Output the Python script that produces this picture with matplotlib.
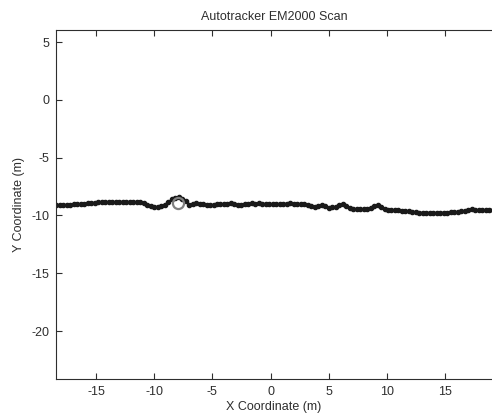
import matplotlib
matplotlib.use("Agg")
import matplotlib.pyplot as plt

# scan points (metres)
scan_x = [-18.4, -18.1, -17.8, -17.5, -17.2, -16.9, -16.6, -16.3, -16.0, -15.7,
          -15.4, -15.1, -14.8, -14.5, -14.2, -13.9, -13.6, -13.3, -13.0, -12.7,
          -12.4, -12.1, -11.8, -11.5, -11.2, -10.9, -10.6, -10.3, -10.0, -9.7,
          -9.4, -9.1, -8.8, -8.5, -8.2, -7.9, -7.6, -7.3, -7.0, -6.7,
          -6.4, -6.1, -5.8, -5.5, -5.2, -4.9, -4.6, -4.3, -4.0, -3.7,
          -3.4, -3.1, -2.8, -2.5, -2.2, -1.9, -1.6, -1.3, -1.0, -0.7,
          -0.4, -0.1, 0.2, 0.5, 0.8, 1.1, 1.4, 1.7, 2.0, 2.3,
          2.6, 2.9, 3.2, 3.5, 3.8, 4.1, 4.4, 4.7, 5.0, 5.3,
          5.6, 5.9, 6.2, 6.5, 6.8, 7.1, 7.4, 7.7, 8.0, 8.3,
          8.6, 8.9, 9.2, 9.5, 9.8, 10.1, 10.4, 10.7, 11.0, 11.3,
          11.6, 11.9, 12.2, 12.5, 12.8, 13.1, 13.4, 13.7, 14.0, 14.3,
          14.6, 14.9, 15.2, 15.5, 15.8, 16.1, 16.4, 16.7, 17.0, 17.3,
          17.6, 17.9, 18.2, 18.5, 18.8, 19.1]
scan_y = [-9.10, -9.09, -9.08, -9.07, -9.07, -9.05, -9.04, -9.02, -9.00, -8.95,
          -8.91, -8.89, -8.87, -8.86, -8.84, -8.83, -8.84, -8.82, -8.81, -8.81,
          -8.80, -8.83, -8.85, -8.87, -8.88, -8.95, -9.08, -9.18, -9.26, -9.30,
          -9.22, -9.08, -8.85, -8.62, -8.45, -8.38, -8.55, -8.78, -9.08, -9.02,
          -8.96, -9.01, -9.04, -9.07, -9.10, -9.06, -9.03, -9.01, -8.99, -8.97,
          -8.96, -9.02, -9.08, -9.10, -9.04, -8.98, -8.96, -8.97, -8.96, -8.98,
          -9.00, -9.03, -9.04, -9.03, -9.01, -8.99, -8.97, -8.96, -8.98, -9.01,
          -9.03, -9.05, -9.07, -9.15, -9.24, -9.20, -9.10, -9.22, -9.32, -9.30,
          -9.24, -9.10, -9.01, -9.15, -9.35, -9.42, -9.46, -9.47, -9.45, -9.42,
          -9.36, -9.22, -9.10, -9.30, -9.47, -9.50, -9.52, -9.54, -9.56, -9.58,
          -9.61, -9.63, -9.67, -9.72, -9.75, -9.76, -9.76, -9.76, -9.77, -9.76,
          -9.76, -9.75, -9.75, -9.74, -9.73, -9.70, -9.66, -9.61, -9.50, -9.46,
          -9.50, -9.53, -9.53, -9.54, -9.53, -9.53]

# tracker position
tracker_x = [-7.93]
tracker_y = [-8.96]

xticks = [-15, -10, -5, 0, 5, 10, 15]
yticks = [5, 0, -5, -10, -15, -20]

plt.rcParams['font.family'] = ['Liberation Sans', 'DejaVu Sans']
plt.rcParams['axes.unicode_minus'] = False
txt = '#2e2e2e'

fig = plt.figure(figsize=(4.92, 4.18), dpi=100)
ax = fig.add_axes([56/492, 39/418, 436/492, 349/418])

ax.plot(scan_x, scan_y, '-', color='#1a1a1a', linewidth=1.2,
        marker='.', markersize=6)
ax.plot(tracker_x, tracker_y, 'o', markerfacecolor='none',
        markeredgecolor='#808080', markeredgewidth=1.6, markersize=8)

ax.set_xlim(-18.44, 19.04)
ax.set_ylim(-24.15, 6.04)
ax.set_xticks(xticks)
ax.set_yticks(yticks)
ax.tick_params(direction='in', length=4, width=0.8, colors=txt,
               labelsize=9, top=True, pad=5)
ax.spines['right'].set_visible(False)
for s in ['left', 'bottom', 'top']:
    ax.spines[s].set_color(txt)
    ax.spines[s].set_linewidth(0.8)

ax.set_title("Autotracker EM2000 Scan", fontsize=9, color=txt, pad=7)
ax.set_xlabel("X Coordinate (m)", fontsize=9, color=txt, labelpad=2)
ax.set_ylabel("Y Coordinate (m)", fontsize=9, color=txt, labelpad=4)

fig.savefig("out.png", dpi=100)
